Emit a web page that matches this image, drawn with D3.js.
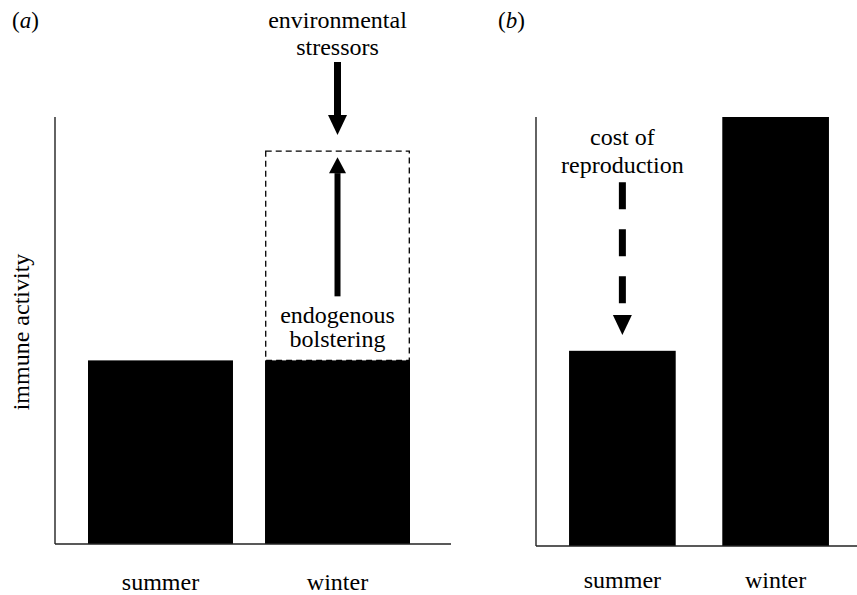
<!DOCTYPE html>
<html>
<head>
<meta charset="utf-8">
<script src="https://cdn.jsdelivr.net/npm/d3@7"></script>
<style>
  html, body { margin: 0; padding: 0; background: #fff; }
</style>
</head>
<body>
<svg id="chart" width="857" height="595"></svg>
<script>
// ---- data ----
const categories = ["summer", "winter"];
const panelAValues = [43, 43];          // immune activity, panel (a)
const panelAPotential = [null, 92];     // dashed "bolstered" level, panel (a)
const panelBValues = [45.5, 100];       // immune activity, panel (b)
const panelLabels = ["a", "b"];
const yLabel = "immune activity";
const annotA1 = ["environmental", "stressors"];
const annotA2 = ["endogenous", "bolstering"];
const annotB = ["cost of", "reproduction"];

const SERIF = "'Liberation Serif', 'Times New Roman', serif";
const svg = d3.select("#chart");
const FS = 24;

// ---- scales ----
const yA = d3.scaleLinear().domain([0, 100]).range([544, 117]);
const yB = d3.scaleLinear().domain([0, 100]).range([546, 117]);
const xA = d3.scaleBand().domain(categories).range([70.3, 427.7]).paddingInner(0.181).paddingOuter(0.1);
const xB = d3.scaleBand().domain(categories).range([538.4, 859.6]).paddingInner(0.304).paddingOuter(0.2);

function txt(sel) {
  return sel.style("font-family", SERIF).style("fill", "#000");
}

// ---- panel labels ----
[[12, panelLabels[0]], [498, panelLabels[1]]].forEach(([x, l]) => {
  const t = txt(svg.append("text")).attr("x", x).attr("y", 28).style("font-size", "23px");
  t.append("tspan").text("(");
  t.append("tspan").style("font-style", "italic").text(l);
  t.append("tspan").text(")");
});

// ---- y label ----
txt(svg.append("text"))
  .attr("transform", "translate(29,332) rotate(-90)")
  .attr("text-anchor", "middle")
  .style("font-size", FS + "px")
  .text(yLabel);

// ---- bars ----
function drawPanel(x, y, vals, axisX0, axisX1, labelY) {
  const g = svg.append("g");
  g.selectAll("rect.bar").data(categories).join("rect")
    .attr("class", "bar")
    .attr("x", d => x(d))
    .attr("width", x.bandwidth())
    .attr("y", (d, i) => y(vals[i]))
    .attr("height", (d, i) => y(0) - y(vals[i]))
    .attr("fill", "#000");
  // axes lines
  g.append("line").attr("x1", axisX0).attr("x2", axisX0)
    .attr("y1", y(100)).attr("y2", y(0)).attr("stroke", "#222").attr("stroke-width", 1.4);
  g.append("line").attr("x1", axisX0).attr("x2", axisX1)
    .attr("y1", y(0)).attr("y2", y(0)).attr("stroke", "#222").attr("stroke-width", 1.4);
  // category labels
  g.selectAll("text.cat").data(categories).join("text")
    .attr("class", "cat")
    .attr("x", d => x(d) + x.bandwidth() / 2)
    .attr("y", labelY)
    .attr("text-anchor", "middle")
    .style("font-size", FS + "px")
    .style("font-family", SERIF)
    .style("fill", "#000")
    .text(d => d);
}
drawPanel(xA, yA, panelAValues, 55, 451, 590);
drawPanel(xB, yB, panelBValues, 536, 857, 588);

// ---- dashed potential box (panel a) ----
categories.forEach((c, i) => {
  if (panelAPotential[i] == null) return;
  svg.append("rect")
    .attr("x", xA(c) + 0.7).attr("width", xA.bandwidth() - 1.4)
    .attr("y", yA(panelAPotential[i])).attr("height", yA(panelAValues[i]) - yA(panelAPotential[i]))
    .attr("fill", "none").attr("stroke", "#000").attr("stroke-width", 1.3)
    .attr("stroke-dasharray", "6,4");
});

// ---- arrows ----
function arrow(cx, yFrom, yTo, shaftW, headW, headL, dash) {
  const dir = yTo > yFrom ? 1 : -1;
  const base = yTo - dir * headL;
  svg.append("line").attr("x1", cx).attr("x2", cx)
    .attr("y1", yFrom).attr("y2", base)
    .attr("stroke", "#000").attr("stroke-width", shaftW)
    .attr("stroke-dasharray", dash || null);
  svg.append("path")
    .attr("d", `M${cx - headW / 2},${base}L${cx + headW / 2},${base}L${cx},${yTo}Z`)
    .attr("fill", "#000");
}
const cxA = xA("winter") + xA.bandwidth() / 2;
// environmental stressors (down)
arrow(cxA, 62, 135, 7, 19, 20);
// endogenous bolstering (up)
arrow(cxA, yA(58), yA(90.6), 6, 17, 16);
// cost of reproduction (dashed, down)
const cxB = xB("summer") + xB.bandwidth() / 2;
arrow(cxB, yB(84.8), yB(49.2), 7, 19, 20, "27,20");

// ---- annotation texts ----
function lines(cx, ys, t) {
  t.forEach((s, i) => txt(svg.append("text")).attr("x", cx).attr("y", ys[i])
    .attr("text-anchor", "middle").style("font-size", FS + "px").text(s));
}
lines(cxA, [28, 55], annotA1);
lines(cxA, [323, 347], annotA2);
lines(cxB, [145, 173], annotB);
</script>
</body>
</html>
